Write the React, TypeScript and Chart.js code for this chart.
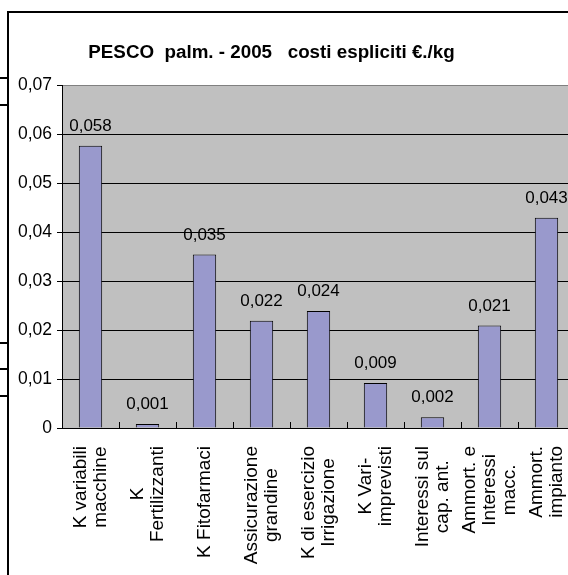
import React, { useEffect, useRef } from "react";
import { Chart, registerables } from "chart.js";

Chart.register(...registerables);

const TITLE = "PESCO  palm. - 2005   costi espliciti €./kg";

const CATEGORIES: string[][] = [
  ["K variabili", "macchine"],
  ["K", "Fertilizzanti"],
  ["K Fitofarmaci"],
  ["Assicurazione", "grandine"],
  ["K di esercizio", "Irrigazione"],
  ["K Vari-", "imprevisti"],
  ["Interessi sul", "cap. ant."],
  ["Ammort. e", "Interessi", "macc."],
  ["Ammort.", "impianto"],
];

const VALUES: number[] = [0.0576, 0.0008, 0.0354, 0.0219, 0.0239, 0.0092, 0.0022, 0.0209, 0.0429];

const Y_TICKS: number[] = [0, 0.01, 0.02, 0.03, 0.04, 0.05, 0.06, 0.07];

const FONT = "'Liberation Sans', Arial, sans-serif";

const fmtTick = (v: number) => (v === 0 ? "0" : v.toFixed(2).replace(".", ","));
const fmtVal = (v: number) => v.toFixed(3).replace(".", ",");

const SIDE_LINES = [77, 104, 342, 368, 395];

export default function App() {
  const ref = useRef<HTMLCanvasElement | null>(null);

  useEffect(() => {
    if (!ref.current) return;

    const bgPlugin = {
      id: "plotBg",
      beforeDraw(chart: any) {
        const { ctx, chartArea } = chart;
        ctx.save();
        ctx.fillStyle = "#c0c0c0";
        ctx.fillRect(chartArea.left, chartArea.top, chartArea.right - chartArea.left, chartArea.bottom - chartArea.top);
        ctx.restore();
      },
    };

    const overlayPlugin = {
      id: "overlay",
      afterDatasetsDraw(chart: any) {
        const { ctx } = chart;
        const xs = chart.scales.x;
        const ys = chart.scales.y;
        const meta = chart.getDatasetMeta(0);
        ctx.save();

        // x tick marks (between categories, pointing up)
        const n = CATEGORIES.length;
        const step = (xs.right - xs.left) / n;
        ctx.strokeStyle = "#000";
        ctx.lineWidth = 1;
        for (let i = 1; i < n; i++) {
          const x = Math.round(xs.left + i * step) + 0.5;
          ctx.beginPath();
          ctx.moveTo(x, ys.bottom);
          ctx.lineTo(x, ys.bottom - 6);
          ctx.stroke();
        }

        // value labels
        ctx.fillStyle = "#000";
        ctx.font = `17px ${FONT}`;
        ctx.textAlign = "center";
        ctx.textBaseline = "alphabetic";
        meta.data.forEach((bar: any, i: number) => {
          ctx.fillText(fmtVal(VALUES[i]), bar.x, bar.y - 15);
        });

        // category labels (rotated, lines centered in a block hanging below the axis)
        ctx.font = `19px ${FONT}`;
        ctx.textBaseline = "middle";
        const lh = 20;
        const gap = 18;
        CATEGORIES.forEach((lines, i) => {
          const x = xs.getPixelForValue(i);
          const maxW = Math.max(...lines.map((l) => ctx.measureText(l).width));
          const cy = ys.bottom + gap + maxW / 2;
          ctx.save();
          ctx.translate(x, cy);
          ctx.rotate(-Math.PI / 2);
          lines.forEach((line, j) => {
            ctx.fillText(line, 0, (j - (lines.length - 1) / 2) * lh);
          });
          ctx.restore();
        });

        // title
        ctx.font = `bold 18.8px ${FONT}`;
        ctx.textAlign = "center";
        ctx.textBaseline = "alphabetic";
        ctx.fillText(TITLE, 262.5, 45);

        ctx.restore();
      },
    };

    const chart = new Chart(ref.current, {
      type: "bar",
      data: {
        labels: CATEGORIES,
        datasets: [
          {
            data: VALUES,
            backgroundColor: "#9999cc",
            borderColor: "#000",
            borderWidth: 1,
            barPercentage: 0.41,
            categoryPercentage: 1,
          },
        ],
      },
      options: {
        responsive: false,
        animation: false,
        devicePixelRatio: 1,
        layout: { padding: { top: 72, left: 0, right: 14, bottom: 0 } },
        plugins: {
          legend: { display: false },
          title: { display: false },
          tooltip: { enabled: false },
        },
        scales: {
          x: {
            offset: true,
            ticks: { display: false },
            grid: { display: false },
            border: { display: true, color: "#000", width: 1 },
            afterFit: (s: any) => {
              s.height = 160;
            },
          },
          y: {
            min: 0,
            max: 0.07,
            afterBuildTicks: (s: any) => {
              s.ticks = Y_TICKS.map((v) => ({ value: v }));
            },
            ticks: {
              color: "#000",
              font: { family: FONT, size: 17.5 },
              padding: 5,
              callback: (v: any) => fmtTick(Number(v)),
            },
            grid: {
              color: (c: any) => (c.tick && c.tick.value === 0.07 ? "#808080" : "#000"),
              tickColor: "#000",
              lineWidth: 1,
              tickLength: 5,
              drawTicks: true,
            },
            border: { display: true, color: "#000", width: 1 },
            afterFit: (s: any) => {
              s.width = 53;
            },
          },
        },
      },
      plugins: [bgPlugin, overlayPlugin],
    });

    return () => chart.destroy();
  }, []);

  return (
    <div
      style={{
        position: "fixed",
        left: 0,
        top: 0,
        width: 568,
        height: 575,
        overflow: "hidden",
        background: "#fff",
      }}
    >
      {SIDE_LINES.map((t) => (
        <div
          key={t}
          style={{ position: "absolute", left: 0, top: t, width: 8, height: 2, background: "#000" }}
        />
      ))}
      <div
        style={{
          position: "absolute",
          left: 7,
          top: 11,
          width: 600,
          height: 600,
          border: "2px solid #000",
          boxSizing: "border-box",
        }}
      >
        <canvas ref={ref} width={580} height={575} style={{ display: "block" }} />
      </div>
    </div>
  );
}
